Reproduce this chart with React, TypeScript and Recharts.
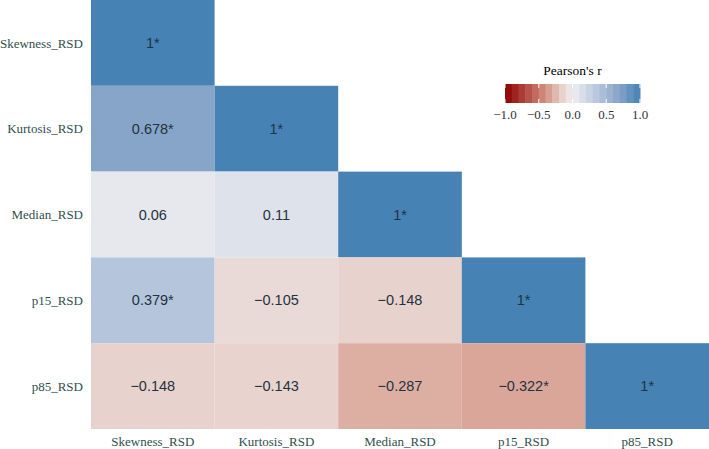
import React from 'react';
import { ScatterChart, Scatter, XAxis, YAxis } from 'recharts';

// variables, lower-triangle correlations and significance flags
const variables = ['Skewness_RSD', 'Kurtosis_RSD', 'Median_RSD', 'p15_RSD', 'p85_RSD'];
const corrRows = [
  [1],
  [0.678, 1],
  [0.06, 0.11, 1],
  [0.379, -0.105, -0.148, 1],
  [-0.148, -0.143, -0.287, -0.322, 1],
];
const sigRows = [
  [true],
  [true, true],
  [false, false, true],
  [true, false, false, true],
  [false, false, false, true, true],
];
const legendTicks = [-1, -0.5, 0, 0.5, 1];

const W = 709;
const H = 449;
const LEFT = 91;
const BOTTOM = 20;
const n = variables.length;
const cellW = (W - LEFT) / n;
const cellH = (H - BOTTOM) / n;
const SERIF = "'Times New Roman', 'Liberation Serif', Times, 'DejaVu Serif', serif";

// colour stops for the diverging scale
const stops: [number, string][] = [
  [-1, '#8B0000'],
  [-0.5, '#C9776A'],
  [-0.3, '#DCAC9F'],
  [-0.15, '#E8D2CD'],
  [0, '#F0EEEE'],
  [0.1, '#E0E4EC'],
  [0.38, '#B4C5DC'],
  [0.68, '#87A4C9'],
  [1, '#4682B4'],
];

const hex = (c: string) => [1, 3, 5].map((i) => parseInt(c.slice(i, i + 2), 16));

function colorFor(v: number): string {
  for (let i = 0; i < stops.length - 1; i++) {
    const [a, ca] = stops[i];
    const [b, cb] = stops[i + 1];
    if (v >= a && v <= b) {
      const t = (v - a) / (b - a);
      const A = hex(ca);
      const B = hex(cb);
      const m = A.map((x, k) => Math.round(x + (B[k] - x) * t));
      return `rgb(${m[0]},${m[1]},${m[2]})`;
    }
  }
  return stops[stops.length - 1][1];
}

const fmt = (v: number) => String(v).replace('-', '\u2212');
const fmt1 = (v: number) => v.toFixed(1).replace('-', '\u2212');

const cells: any[] = [];
corrRows.forEach((row, i) => {
  row.forEach((v, j) => {
    cells.push({ col: j, row: i, value: v, label: fmt(v) + (sigRows[i][j] ? '*' : '') });
  });
});

const CellShape = (props: any) => {
  const { cx, cy, payload } = props;
  return (
    <g>
      <rect x={cx - cellW / 2} y={cy - cellH / 2} width={cellW} height={cellH} fill={colorFor(payload.value)} />
      <text
        x={cx}
        y={cy}
        textAnchor="middle"
        dominantBaseline="central"
        fontFamily="'Liberation Sans', Arial, sans-serif"
        fontSize={14.5}
        fill="#1F3340"
      >
        {payload.label}
      </text>
    </g>
  );
};

const Legend = () => {
  const x0 = 505;
  const x1 = 640;
  const y0 = 84;
  const y1 = 103;
  const bins = 20;
  const bw = (x1 - x0) / bins;
  const pos = (v: number) => x0 + ((v + 1) / 2) * (x1 - x0);
  return (
    <svg width={W} height={H} style={{ position: 'absolute', left: 0, top: 0, pointerEvents: 'none' }}>
      <text x={572.5} y={75} textAnchor="middle" fontFamily={SERIF} fontSize={13.5} fill="#000">
        Pearson's r
      </text>
      {Array.from({ length: bins }, (_, k) => (
        <rect key={k} x={x0 + k * bw} y={y0} width={bw + 0.5} height={y1 - y0} fill={colorFor(-1 + (2 * (k + 0.5)) / bins)} />
      ))}
      {legendTicks.map((t) => (
        <g key={t}>
          <line x1={pos(t)} x2={pos(t)} y1={y0} y2={y0 + 4} stroke="#fff" strokeWidth={1} />
          <line x1={pos(t)} x2={pos(t)} y1={y1 - 4} y2={y1} stroke="#fff" strokeWidth={1} />
          <text x={pos(t)} y={119} textAnchor="middle" fontFamily={SERIF} fontSize={13} fill="#333">
            {fmt1(t)}
          </text>
        </g>
      ))}
    </svg>
  );
};

export default function App() {
  const axisTick = { fontFamily: SERIF, fontSize: 13, fill: '#2F4F4F' };
  return (
    <div style={{ position: 'absolute', left: 0, top: 0, width: W, height: H, background: '#fff' }}>
      <ScatterChart width={W} height={H} margin={{ top: 0, right: 0, bottom: 0, left: 0 }}>
        <XAxis
          type="number"
          dataKey="col"
          domain={[-0.5, n - 0.5]}
          ticks={variables.map((_, i) => i)}
          tickFormatter={(i: number) => variables[i]}
          axisLine={false}
          tickLine={false}
          height={BOTTOM}
          tick={axisTick}
          fontFamily={SERIF}
          interval={0}
        />
        <YAxis
          type="number"
          dataKey="row"
          domain={[-0.5, n - 0.5]}
          reversed
          ticks={variables.map((_, i) => i)}
          tickFormatter={(i: number) => variables[i]}
          axisLine={false}
          tickLine={false}
          width={LEFT}
          tick={axisTick}
          fontFamily={SERIF}
          interval={0}
        />
        <Scatter data={cells} shape={CellShape} isAnimationActive={false} />
      </ScatterChart>
      <Legend />
    </div>
  );
}
